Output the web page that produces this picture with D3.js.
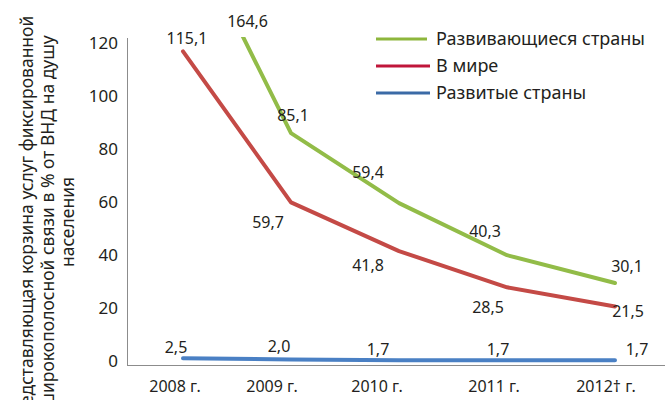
<!DOCTYPE html>
<html>
<head>
<meta charset="utf-8">
<script src="https://cdn.jsdelivr.net/npm/d3@7"></script>
<style>
	body { margin: 0; background: #fff; }
	text { font-family: "Noto Sans", sans-serif; fill: #231f20; }
</style>
</head>
<body>
<div id="chart"></div>
<script>

// data
let years = ["2008 г.", "2009 г.", "2010 г.", "2011 г.", "2012† г."];
let developing = [164.6, 85.1, 59.4, 40.3, 30.1];
let world = [115.1, 59.7, 41.8, 28.5, 21.5];
let developed = [2.5, 2.0, 1.7, 1.7, 1.7];
let seriesNames = ["Развивающиеся страны", "В мире", "Развитые страны"];
let yTicks = [0, 20, 40, 60, 80, 100, 120];
let yTitle = [
	"Представляющая корзина услуг фиксированной",
	"широкополосной связи в % от ВНД на душу",
	"населения"
];

// label nudges (px) per point, as placed in the original
let nudgeDeveloping = [[4, 0], [2, -18], [-31, -31], [-22, -24], [12, -17]];
let nudgeWorld = [[4, -13], [-23, 20], [-31, 14], [-19, 20], [13, 5]];
let nudgeDeveloped = [[-7, -11], [-12, -13], [-21, -11], [-9, -11], [22, -11]];
let xTickNudge = [-8, -19, -22, -13, -9];

let width = 665, height = 400;
let plot = { left: 127, right: 665, top: 37, bottom: 365 };

let svg = d3.select("#chart").append("svg")
	.attr("width", width)
	.attr("height", height);

let x = d3.scalePoint()
	.domain(years)
	.range([183, 615]);

let y = d3.scaleLinear()
	.domain([0, 120])
	.range([365, 38]);

// tick labels sit slightly inside the axis ends in the original
let yLab = d3.scaleLinear()
	.domain([0, 120])
	.range([361, 43.5]);

svg.append("defs").append("clipPath")
	.attr("id", "plot-clip")
	.append("rect")
	.attr("x", plot.left)
	.attr("y", plot.top)
	.attr("width", plot.right - plot.left)
	.attr("height", plot.bottom - plot.top);

// axes
svg.append("line")
	.attr("x1", plot.left + 0.5).attr("x2", plot.left + 0.5)
	.attr("y1", y(120)).attr("y2", y(0))
	.attr("stroke", "#8c8c8c");

svg.append("line")
	.attr("x1", plot.left).attr("x2", plot.right)
	.attr("y1", y(0) + 0.5).attr("y2", y(0) + 0.5)
	.attr("stroke", "#8c8c8c");

svg.selectAll(".y-label").data(yTicks).enter().append("text")
	.attr("class", "y-label")
	.attr("x", 118)
	.attr("y", d => yLab(d))
	.attr("dy", "0.35em")
	.attr("text-anchor", "end")
	.style("font-size", "17px")
	.text(d => d);

svg.selectAll(".x-label").data(years).enter().append("text")
	.attr("class", "x-label")
	.attr("x", (d, i) => x(d) + xTickNudge[i])
	.attr("y", 386)
	.attr("dy", "0.35em")
	.attr("text-anchor", "middle")
	.style("font-size", "16px")
	.text(d => d);

// y-axis title (three rotated lines, first two run past the left edge like the original)
svg.append("g")
	.attr("transform", "translate(27,222) rotate(-90)")
	.selectAll("text").data(yTitle).enter().append("text")
	.attr("x", 0)
	.attr("y", (d, i) => i * 20.5)
	.attr("dy", "0.35em")
	.attr("text-anchor", "middle")
	.style("font-size", "17.5px")
	.text(d => d);

// lines
let series = [
	{ name: seriesNames[0], values: developing, nudge: nudgeDeveloping, color: "#92bc48", legend: "#8db63c" },
	{ name: seriesNames[1], values: world, nudge: nudgeWorld, color: "#c44a46", legend: "#c0163a" },
	{ name: seriesNames[2], values: developed, nudge: nudgeDeveloped, color: "#4a80c4", legend: "#3b6aa6" }
];

let line = d3.line()
	.x((d, i) => x(years[i]))
	.y(d => y(d));

let plotArea = svg.append("g").attr("clip-path", "url(#plot-clip)");

plotArea.selectAll(".series").data(series.slice().reverse()).enter().append("path")
	.attr("class", "series")
	.attr("d", d => line(d.values))
	.attr("fill", "none")
	.attr("stroke", d => d.color)
	.attr("stroke-width", 4)
	.attr("stroke-linecap", "round")
	.attr("stroke-linejoin", "round");

// data labels
series.forEach(s => {
	svg.selectAll(null).data(s.values).enter().append("text")
		.attr("x", (d, i) => {
			if (d > 120) {
				// label of an off-scale point goes where the line leaves the plot
				let t = (d - 120) / (d - s.values[i + 1]);
				return x(years[i]) + t * (x(years[i + 1]) - x(years[i])) + s.nudge[i][0];
			}
			return x(years[i]) + s.nudge[i][0];
		})
		.attr("y", (d, i) => d > 120 ? plot.top - 16 : y(d) + s.nudge[i][1])
		.attr("dy", "0.35em")
		.attr("text-anchor", "middle")
		.style("font-size", "16px")
		.text(d => d3.format(".1f")(d).replace(".", ","));
});

// legend
let legend = svg.append("g")
	.selectAll("g").data(series).enter().append("g")
	.attr("transform", (d, i) => "translate(376," + (39 + i * 27) + ")");

legend.append("line")
	.attr("x1", 0).attr("x2", (d, i) => i == 0 ? 51 : 54)
	.attr("stroke", d => d.legend)
	.attr("stroke-width", 3);

legend.append("text")
	.attr("x", 60)
	.attr("dy", "0.35em")
	.style("font-size", "18px")
	.text(d => d.name);

</script>
</body>
</html>
